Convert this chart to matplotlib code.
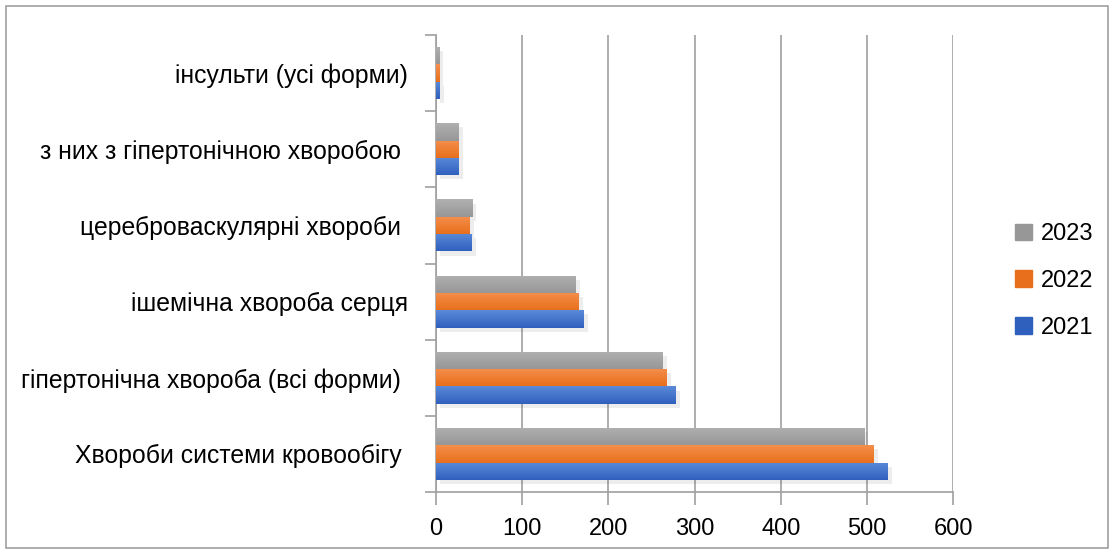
import numpy as np
import matplotlib
matplotlib.use('Agg')
import matplotlib.pyplot as plt
from matplotlib.colors import LinearSegmentedColormap
from matplotlib.patches import Rectangle, Patch
import matplotlib.patheffects as pe

plt.rcParams['font.family'] = ['Liberation Sans', 'DejaVu Sans']

categories = ['Хвороби системи кровообігу ', 'гіпертонічна хвороба (всі форми) ',
              'ішемічна хвороба серця', 'цереброваскулярні хвороби ',
              'з них з гіпертонічною хворобою ', 'інсульти (усі форми)']
years = ['2021', '2022', '2023']
v2021 = [524, 278, 171, 41, 26, 4]
v2022 = [508, 268, 165.5, 39, 26, 3.5]
v2023 = [497, 263, 162, 42, 26, 3.5]
xticks = [0, 100, 200, 300, 400, 500, 600]

# (light top, dark bottom) for each series
shades = [('#5b8ad8', '#2f60be'), ('#f58e4c', '#e8701c'), ('#b0b0b0', '#979797')]

fig = plt.figure(figsize=(11.16, 5.53), dpi=100)
ax = fig.add_axes([0.3907, 0.1103, 0.4633, 0.8264])

y = np.arange(len(categories))
h = 0.228
for i, vals in enumerate([v2021, v2022, v2023]):
    bars = ax.barh(y + (i - 1) * h, vals, height=h, color=shades[i][1], zorder=3,
                   path_effects=[pe.SimplePatchShadow(offset=(3, -3), alpha=0.1, shadow_rgbFace='#555555'),
                                 pe.Normal()])
    cmap = LinearSegmentedColormap.from_list('g%d' % i, [shades[i][0], shades[i][1]])
    grad = np.linspace(0, 1, 64).reshape(-1, 1)
    for b in bars:
        x0, y0 = b.get_x(), b.get_y()
        im = ax.imshow(grad, extent=[x0, x0 + b.get_width(), y0, y0 + b.get_height()],
                       origin='upper', aspect='auto', cmap=cmap, zorder=4)
        im.set_clip_path(b)

ax.set_xlim(0, 600)
ax.set_ylim(-0.5, len(categories) - 0.5)
ax.set_xticks(xticks)
ax.set_xticklabels([str(t) for t in xticks], fontsize=17)
ax.set_yticks(y)
ax.set_yticklabels(categories, fontsize=17.8)
ax.set_yticks(np.arange(len(categories) + 1) - 0.5, minor=True)

ax.tick_params(axis='y', which='major', length=0, pad=20)
ax.tick_params(axis='y', which='minor', length=8, color='#a0a0a0', width=1.2)
ax.tick_params(axis='x', length=9, color='#a0a0a0', width=1.2, pad=10)
ax.grid(axis='x', color='#a0a0a0', lw=1.2, zorder=0)

for s in ['top', 'right']:
    ax.spines[s].set_visible(False)
for s in ['left', 'bottom']:
    ax.spines[s].set_color('#a0a0a0')
    ax.spines[s].set_linewidth(1.2)

handles = [Patch(color=shades[i][1]) for i in range(3)][::-1]
ax.legend(handles, years[::-1], loc='center left', bbox_to_anchor=(1.12, 0.462),
          frameon=False, fontsize=17, handlelength=0.7, handleheight=0.7,
          labelspacing=1.05, handletextpad=0.4, borderpad=0, borderaxespad=0)

fig.patches.append(Rectangle((0.005, 0.009), 0.988, 0.98, transform=fig.transFigure,
                             fill=False, edgecolor='#a0a0a0', lw=1.2))

fig.savefig('out.png', dpi=100)
